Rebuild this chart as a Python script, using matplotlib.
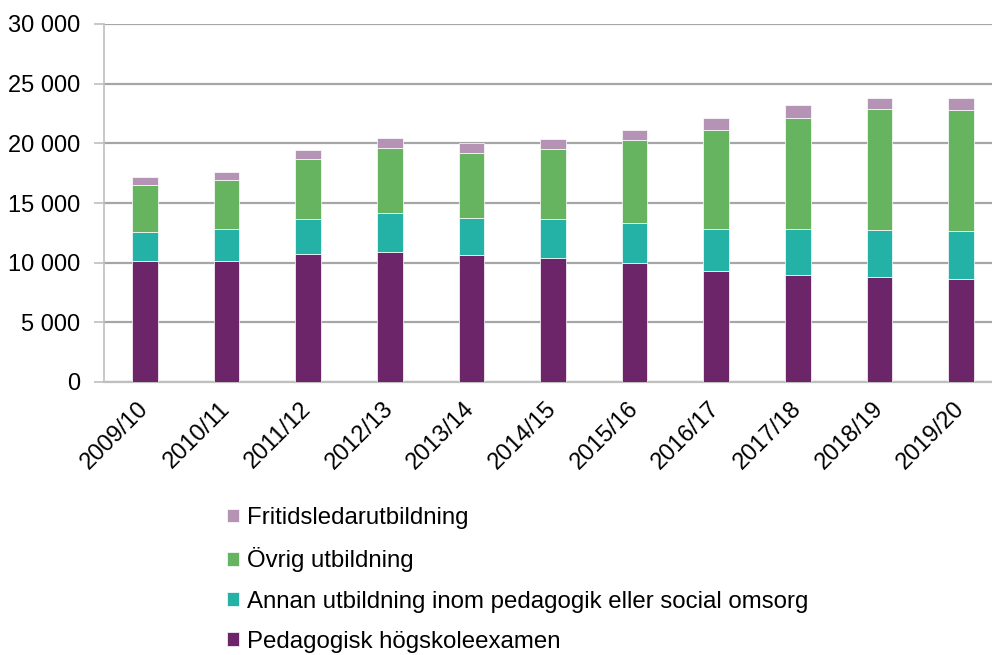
import matplotlib.pyplot as plt
import numpy as np

ar = ['2009/10', '2010/11', '2011/12', '2012/13', '2013/14', '2014/15',
      '2015/16', '2016/17', '2017/18', '2018/19', '2019/20']
pedagogisk = [10170, 10170, 10730, 10920, 10610, 10400, 9960, 9310, 8980, 8780, 8640]
annan = [2370, 2620, 2900, 3240, 3130, 3220, 3350, 3550, 3880, 3970, 4000]
ovrig = [3970, 4170, 5060, 5480, 5450, 5900, 6990, 8280, 9260, 10100, 10120]
fritids = [640, 640, 720, 830, 810, 870, 840, 950, 1060, 980, 1070]

plt.rcParams['font.family'] = ['Liberation Sans', 'DejaVu Sans']

fig = plt.figure(figsize=(9.92, 6.55), dpi=100)
ax = fig.add_axes([104/992, 1 - 382/655, 898/992, 358/655])

x = np.arange(len(ar))
w = 0.315
b1 = np.array(pedagogisk)
b2 = b1 + np.array(annan)
b3 = b2 + np.array(ovrig)

h1 = ax.bar(x, pedagogisk, w, color='#6B2568', edgecolor='#ffffff', linewidth=0.5, zorder=3)
h2 = ax.bar(x, annan, w, bottom=b1, color='#23B2A5', edgecolor='#ffffff', linewidth=0.5, zorder=3)
h3 = ax.bar(x, ovrig, w, bottom=b2, color='#66B45F', edgecolor='#ffffff', linewidth=0.5, zorder=3)
h4 = ax.bar(x, fritids, w, bottom=b3, color='#B593B5', edgecolor='#ffffff', linewidth=0.5, zorder=3)

ax.set_xlim(-0.5, 10.5)
ax.set_ylim(0, 30000)
ax.set_yticks(range(0, 30001, 5000))
ax.set_yticklabels(['0' if v == 0 else '{:,}'.format(v).replace(',', ' ') for v in range(0, 30001, 5000)],
                   fontsize=17)
ax.yaxis.grid(True, color='#A6A6A6', linewidth=1.6, zorder=0)
ax.set_axisbelow(True)

ax.set_xticks(x)
ax.set_xticklabels(ar, rotation=45, ha='right', va='center', rotation_mode='anchor', fontsize=17)
ax.tick_params(axis='x', length=0, pad=17)
ax.tick_params(axis='y', length=7, color='#BFBFBF', width=1.2, pad=10)

for s in ['top', 'right']:
    ax.spines[s].set_visible(False)
ax.spines['left'].set_color('#BFBFBF')
ax.spines['left'].set_linewidth(1.2)
ax.spines['bottom'].set_color('#BFBFBF')
ax.spines['bottom'].set_linewidth(1.6)

fig.legend([h4, h3, h2, h1],
           ['Fritidsledarutbildning', 'Övrig utbildning',
            'Annan utbildning inom pedagogik eller social omsorg',
            'Pedagogisk högskoleexamen'],
           loc='upper left', bbox_to_anchor=(227/992, 1 - 507/655),
           frameon=False, fontsize=17.3, handlelength=0.5, handleheight=0.5,
           handletextpad=0.35, labelspacing=0.76, borderpad=0, borderaxespad=0)

plt.savefig('out.png', dpi=100)
plt.close(fig)
